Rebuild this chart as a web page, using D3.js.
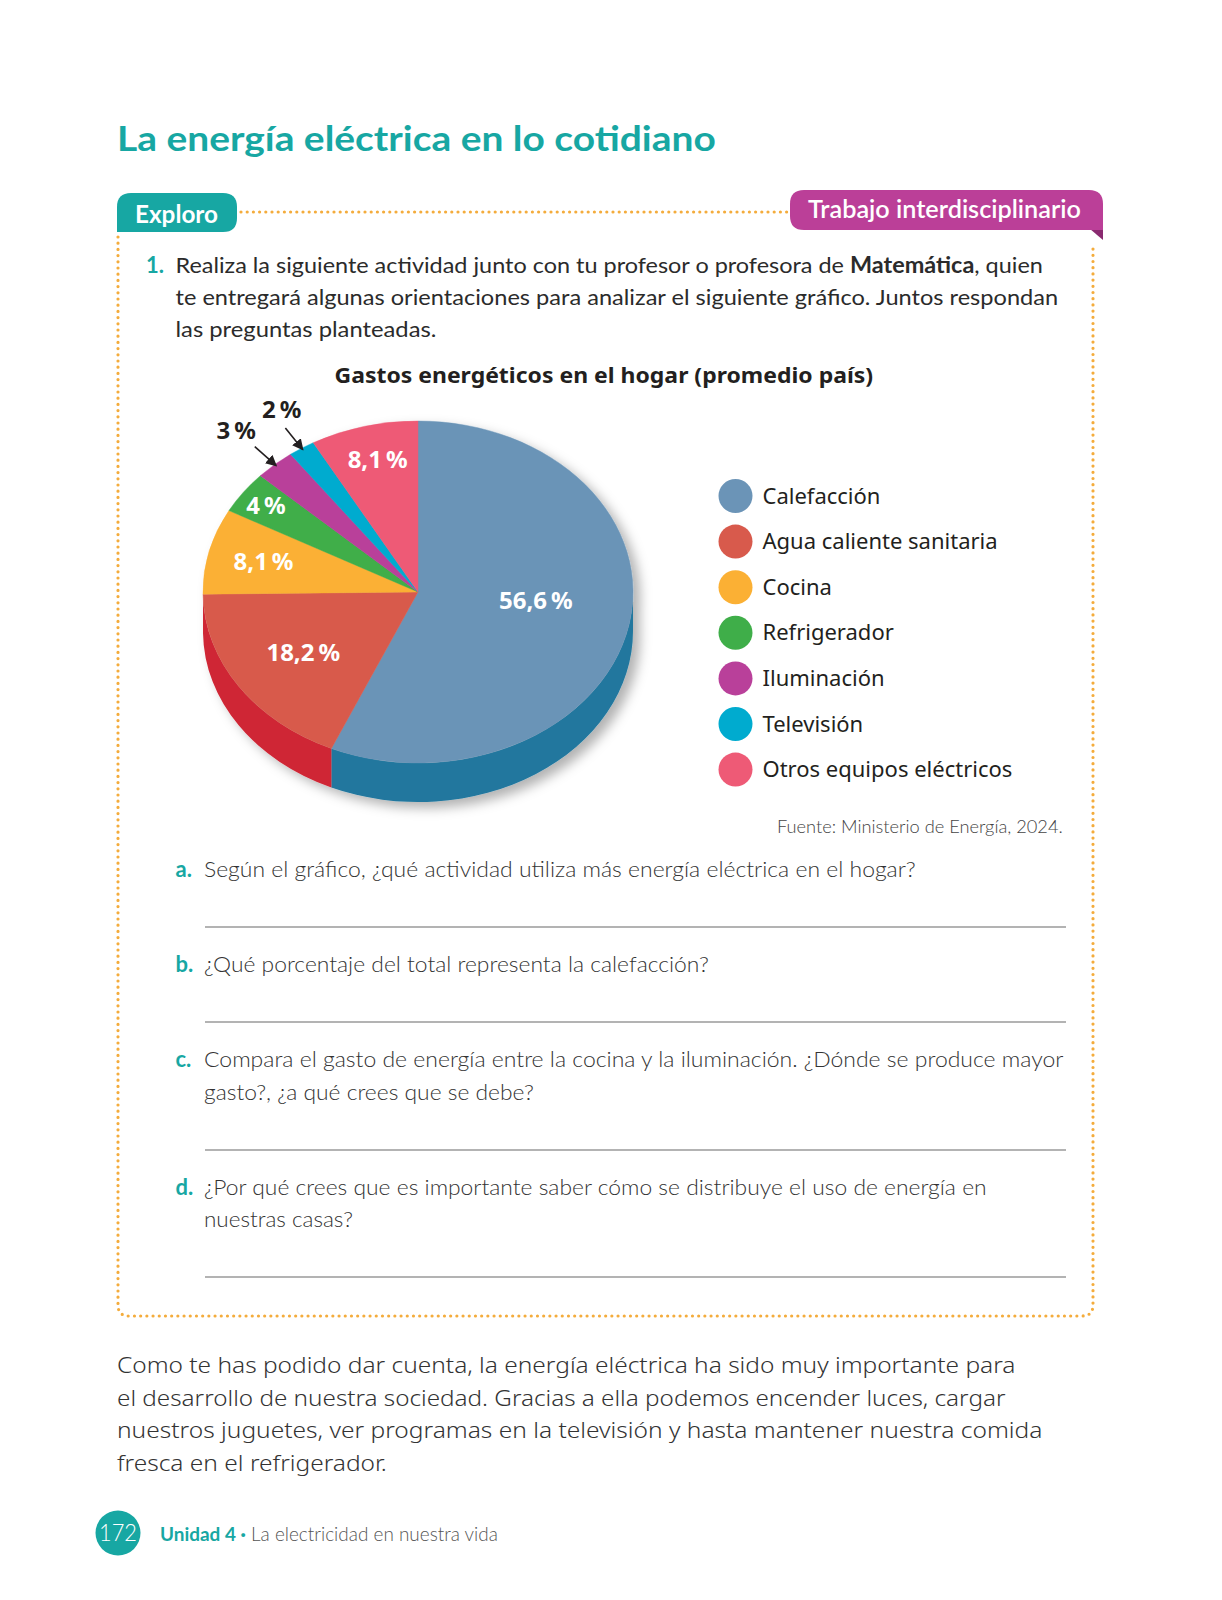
<!DOCTYPE html>
<html>
<head>
<meta charset="utf-8">
<script src="https://cdn.jsdelivr.net/npm/d3@7"></script>
<style>
  body { margin: 0; background: #fff; }
  svg { display: block; }
</style>
</head>
<body>
<script>
// ---- data ----
var categories = ["Calefacción", "Agua caliente sanitaria", "Cocina", "Refrigerador",
                  "Iluminación", "Televisión", "Otros equipos eléctricos"];
var values = [56.6, 18.2, 8.1, 4, 3, 2, 8.1];
var topColors = ["#6b94b7", "#d85a4c", "#fbb034", "#3fae49", "#b9409a", "#00abcf", "#ee5a76"];
var sideColors = ["#20779e", "#cf2534", "#e09a20", "#2d8d37", "#93307a", "#0089a6", "#c94660"];
var chartTitle = "Gastos energéticos en el hogar (promedio país)";
var source = "Fuente: Ministerio de Energía, 2024.";

var intro = [
  [{t: "Realiza la siguiente actividad junto con tu profesor o profesora de "}, {t: "Matemática", w: 700}, {t: ", quien"}],
  [{t: "te entregará algunas orientaciones para analizar el siguiente gráfico. Juntos respondan"}],
  [{t: "las preguntas planteadas."}]
];
var questionLetters = ["a.", "b.", "c.", "d."];
var questions = [
  ["Según el gráfico, ¿qué actividad utiliza más energía eléctrica en el hogar?"],
  ["¿Qué porcentaje del total representa la calefacción?"],
  ["Compara el gasto de energía entre la cocina y la iluminación. ¿Dónde se produce mayor",
   "gasto?, ¿a qué crees que se debe?"],
  ["¿Por qué crees que es importante saber cómo se distribuye el uso de energía en",
   "nuestras casas?"]
];
var paragraph = [
  "Como te has podido dar cuenta, la energía eléctrica ha sido muy importante para",
  "el desarrollo de nuestra sociedad. Gracias a ella podemos encender luces, cargar",
  "nuestros juguetes, ver programas en la televisión y hasta mantener nuestra comida",
  "fresca en el refrigerador."
];

// ---- layout ----
var W = 1222, H = 1600;
var teal = "#17a7a3", magenta = "#bb3f98", dotColor = "#f4ac3c", ink = "#2b2b2b";
var cx = 418, cy = 592, rx = 215, ry = 171, depth = 39;
// label distance (fraction of radius) and angle tweak (degrees) per slice
var labelR = [0.55, 0.64, 0.74, 0.87, 1.27, 1.24, 0.8];
var labelTurn = [-7, 0, 0, 0, 0, 2, 1];

var svg = d3.select("body").append("svg").attr("width", W).attr("height", H);
var defs = svg.append("defs");

// text helper: measures and squeezes horizontally to a target width
function addText(parent, x, y, parts, o) {
  var g = parent.append("g");
  var t = g.append("text")
    .attr("font-family", o.family || "Lato")
    .attr("font-size", o.size)
    .attr("font-weight", o.weight || 400)
    .attr("fill", o.fill || ink);
  if (typeof parts === "string") parts = [{t: parts}];
  parts.forEach(function(p) {
    t.append("tspan").text(p.t)
      .attr("font-weight", p.w || null)
      .attr("font-size", p.s || null)
      .attr("fill", p.c || null);
  });
  var len = t.node().getComputedTextLength();
  var sx = o.width ? o.width / len : (o.sx || 1);
  var w = len * sx;
  var x0 = o.anchor === "end" ? x - w : o.anchor === "middle" ? x - w / 2 : x;
  g.attr("transform", "translate(" + x0 + "," + y + ") scale(" + sx + ",1)");
  return g;
}

// ---- page title ----
addText(svg, 117, 151, "La energía eléctrica en lo cotidiano",
  {size: 34, weight: 700, fill: teal, width: 599});

// ---- dotted frame ----
var dots = svg.append("g")
  .attr("fill", "none")
  .attr("stroke", dotColor)
  .attr("stroke-width", 3.2)
  .attr("stroke-linecap", "round")
  .attr("stroke-dasharray", "0 6.2");
dots.append("path").attr("d", "M241,212 L787,212");
dots.append("path").attr("d",
  "M118,237 L118,1305 Q118,1316 129,1316 L1082,1316 Q1093,1316 1093,1305 L1093,245");

// tabs
svg.append("path").attr("fill", teal)
  .attr("d", "M117,232 L117,207 Q117,193 131,193 L223,193 Q237,193 237,207 L237,218 Q237,232 223,232 Z");
addText(svg, 135, 223, "Exploro", {size: 25, weight: 700, fill: "#fff", width: 83});

svg.append("path").attr("fill", "#8a2a70")
  .attr("d", "M1090,229 L1103,229 L1103,240 Z");
svg.append("path").attr("fill", magenta)
  .attr("d", "M804,190 L1089,190 Q1103,190 1103,204 L1103,230 L804,230 Q790,230 790,216 L790,204 Q790,190 804,190 Z");
addText(svg, 808, 218, "Trabajo interdisciplinario", {size: 25, weight: 600, fill: "#fff", width: 273});

// ---- activity text ----
addText(svg, 146, 273, "1.", {size: 22, weight: 700, fill: teal});
var introW = [868, 883, 261];
intro.forEach(function(line, i) {
  addText(svg, 175.5, 273 + i * 32, line, {size: 22, width: introW[i]});
});

addText(svg, 604, 383, chartTitle,
  {family: "Noto Sans", size: 21, weight: 700, fill: "#231f20", width: 539, anchor: "middle"});

// ---- 3D pie ----
var pie = d3.pie().sort(null).value(function(d) { return d; });
var arcs = pie(values);

var filter = defs.append("filter").attr("id", "shadow")
  .attr("x", "-10%").attr("y", "-10%").attr("width", "125%").attr("height", "130%");
filter.append("feDropShadow")
  .attr("dx", 7).attr("dy", 6).attr("stdDeviation", 6)
  .attr("flood-color", "#000").attr("flood-opacity", 0.3);

var pieG = svg.append("g").attr("filter", "url(#shadow)");

function pt(a, dy) {
  return [cx + rx * Math.sin(a), cy - ry * Math.cos(a) + (dy || 0)];
}

// side walls (only the front half is visible)
pieG.selectAll("path.side")
  .data(arcs.filter(function(d) {
    return Math.min(d.endAngle, 1.5 * Math.PI) > Math.max(d.startAngle, 0.5 * Math.PI);
  }))
  .enter().append("path")
  .attr("class", "side")
  .attr("fill", function(d) { return sideColors[d.index]; })
  .attr("d", function(d) {
    var s = Math.max(d.startAngle, 0.5 * Math.PI), e = Math.min(d.endAngle, 1.5 * Math.PI);
    var p0 = pt(s), p1 = pt(e), p2 = pt(e, depth), p3 = pt(s, depth);
    return "M" + p0 + " A" + rx + "," + ry + " 0 0 1 " + p1 +
      " L" + p2 + " A" + rx + "," + ry + " 0 0 0 " + p3 + " Z";
  });

var arc = d3.arc().innerRadius(0).outerRadius(rx);
pieG.append("g")
  .attr("transform", "translate(" + cx + "," + cy + ") scale(1," + (ry / rx) + ")")
  .selectAll("path.top")
  .data(arcs)
  .enter().append("path")
  .attr("class", "top")
  .attr("fill", function(d) { return topColors[d.index]; })
  .attr("stroke", function(d) { return topColors[d.index]; })
  .attr("stroke-width", 0.5)
  .attr("d", arc);

// labels
defs.append("marker").attr("id", "arrow")
  .attr("viewBox", "0 0 10 10").attr("refX", 9).attr("refY", 5)
  .attr("markerWidth", 7).attr("markerHeight", 7).attr("orient", "auto")
  .append("path").attr("d", "M0,0 L10,5 L0,10 Z").attr("fill", "#231f20");

function fmt(v) { return String(v).replace(".", ",") + "\u2009%"; }

arcs.forEach(function(d) {
  var mid = (d.startAngle + d.endAngle) / 2;
  var la = mid + labelTurn[d.index] * Math.PI / 180;
  var r = labelR[d.index];
  var outside = r > 1;
  var p = [cx + rx * r * Math.sin(la), cy - ry * r * Math.cos(la)];
  if (outside) {
    var a0 = [cx + rx * 1.14 * Math.sin(mid), cy - ry * 1.14 * Math.cos(mid)];
    var a1 = [cx + rx * 0.99 * Math.sin(mid), cy - ry * 0.99 * Math.cos(mid)];
    svg.append("line")
      .attr("x1", a0[0]).attr("y1", a0[1]).attr("x2", a1[0]).attr("y2", a1[1])
      .attr("stroke", "#231f20").attr("stroke-width", 1.6)
      .attr("marker-end", "url(#arrow)");
  }
  addText(svg, p[0], p[1] + 8.5, fmt(values[d.index]), {
    family: "Noto Sans", size: 24, weight: 700,
    fill: outside ? "#231f20" : "#fff", anchor: "middle"
  });
});

// legend
var legend = svg.append("g").attr("transform", "translate(735.5,496)");
var item = legend.selectAll("g.item").data(categories).enter().append("g")
  .attr("class", "item")
  .attr("transform", function(d, i) { return "translate(0," + i * 45.6 + ")"; });
item.append("circle").attr("r", 17).attr("fill", function(d, i) { return topColors[i]; });
item.each(function(d) {
  addText(d3.select(this), 27, 7.5, d, {family: "Noto Sans", size: 22, fill: "#231f20", sx: 1});
});

addText(svg, 1063, 833, source, {size: 18, weight: 300, fill: "#444", width: 286, anchor: "end"});

// ---- questions ----
var qBase = [[877], [972], [1067, 1100], [1195, 1227]];
var qW = [[712], [505], [860, 330], [783, 149]];
var answerY = [927, 1022, 1150, 1277];
questions.forEach(function(q, i) {
  addText(svg, 175.5, qBase[i][0], questionLetters[i], {size: 22, weight: 700, fill: teal});
  q.forEach(function(line, j) {
    addText(svg, 204, qBase[i][j], line, {size: 22, weight: 300, fill: "#333", width: qW[i][j]});
  });
  svg.append("line")
    .attr("x1", 205).attr("x2", 1066)
    .attr("y1", answerY[i]).attr("y2", answerY[i])
    .attr("stroke", "#9a9a9a").attr("stroke-width", 1.4);
});

// ---- closing paragraph ----
var pW = [899, 889, 926, 270];
paragraph.forEach(function(line, i) {
  addText(svg, 117, 1373 + i * 32.5, line, {family: "Noto Sans", size: 22, weight: 300, fill: "#333", width: pW[i]});
});

// ---- footer ----
svg.append("circle").attr("cx", 118).attr("cy", 1533).attr("r", 22.5).attr("fill", teal);
addText(svg, 118, 1541, "172", {size: 23, weight: 300, fill: "#fff", width: 38, anchor: "middle"});
addText(svg, 160, 1541, [
  {t: "Unidad 4 ", w: 700, c: teal},
  {t: "\u00B7", w: 900, c: teal},
  {t: " La electricidad en nuestra vida", w: 300, c: "#555"}
], {size: 19.5, width: 338});
</script>
</body>
</html>
